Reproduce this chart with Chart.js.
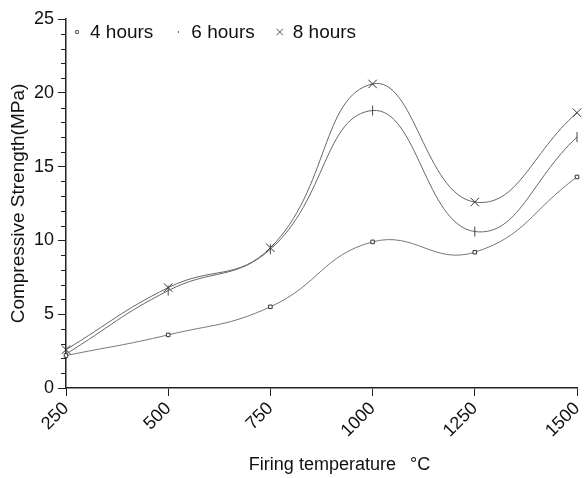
<!DOCTYPE html>
<html>
<head>
<meta charset="utf-8">
<script src="https://cdn.jsdelivr.net/npm/chart.js@4"></script>
<style>
  html, body { margin: 0; padding: 0; background: #fff; }
  #wrap { width: 586px; height: 478px; }
</style>
</head>
<body>
<div id="wrap"><canvas id="strengthChart" width="586" height="478"></canvas></div>
<script>
var temps = [250, 500, 750, 1000, 1250, 1500];
var hours4 = [2.2, 3.6, 5.5, 9.9, 9.2, 14.3];
var hours6 = [2.3, 6.6, 9.4, 18.8, 10.6, 17.0];
var hours8 = [2.6, 6.8, 9.5, 20.6, 12.6, 18.65];
var seriesNames = ['4 hours', '6 hours', '8 hours'];
var yTicks = [0, 5, 10, 15, 20, 25];

function points(vals) {
    return temps.map((t, i) => ({ x: t, y: vals[i] }));
}

var fontFamily = '"Liberation Sans", Arial, sans-serif';
Chart.defaults.font.family = fontFamily;
Chart.defaults.color = '#111';

// small minor ticks on the y axis, one per unit
var minorTicks = {
    id: 'minorTicks',
    afterDraw(chart) {
        var y = chart.scales.y;
        var ctx = chart.ctx;
        ctx.save();
        ctx.strokeStyle = '#222';
        ctx.lineWidth = 1;
        for (var v = 0; v <= 25; v++) {
            if (yTicks.indexOf(v) >= 0) continue;
            var py = Math.round(y.getPixelForValue(v)) + 0.5;
            ctx.beginPath();
            ctx.moveTo(y.right - 5, py);
            ctx.lineTo(y.right, py);
            ctx.stroke();
        }
        ctx.restore();
    }
};

// one-row legend inside the plot, top left
var innerLegend = {
    id: 'innerLegend',
    afterDraw(chart) {
        var ctx = chart.ctx;
        var area = chart.chartArea;
        var x = area.left + 11;
        var y = area.top + 13;
        var sizes = [2, 1, 4.5];
        ctx.save();
        ctx.font = '19px ' + fontFamily;
        ctx.textBaseline = 'middle';
        chart.data.datasets.forEach((ds, i) => {
            ctx.strokeStyle = '#555';
            ctx.fillStyle = '#fff';
            ctx.lineWidth = 1;
            Chart.helpers.drawPoint(ctx, {
                pointStyle: ds.pointStyle,
                radius: sizes[i],
                rotation: ds.pointRotation || 0,
                borderWidth: 1
            }, x, y);
            ctx.fillStyle = '#111';
            ctx.fillText(ds.label, x + 13, y + 1);
            x += 13 + ctx.measureText(ds.label).width + 25;
        });
        ctx.restore();
    }
};

var lineChart = new Chart('strengthChart', {
    type: 'line',
    data: {
        datasets: [{
            label: seriesNames[0],
            data: points(hours4),
            borderColor: '#777',
            borderWidth: 1,
            pointStyle: 'rect',
            pointRadius: 2.5,
            pointBackgroundColor: '#fff',
            pointBorderColor: '#333',
            pointBorderWidth: 1,
            tension: 0.45,
            clip: false,
            fill: false
        }, {
            label: seriesNames[1],
            data: points(hours6),
            borderColor: '#666',
            borderWidth: 1,
            pointStyle: 'line',
            pointRotation: 90,
            pointRadius: 5,
            pointBorderColor: '#444',
            pointBorderWidth: 1,
            tension: 0.45,
            clip: false,
            fill: false
        }, {
            label: seriesNames[2],
            data: points(hours8),
            borderColor: '#666',
            borderWidth: 1,
            pointStyle: 'crossRot',
            pointRadius: 6,
            pointBorderColor: '#333',
            pointBorderWidth: 1,
            tension: 0.45,
            clip: false,
            fill: false
        }]
    },
    options: {
        responsive: false,
        animation: false,
        layout: {
            padding: { top: 19, right: 9, left: 0, bottom: 0 }
        },
        scales: {
            x: {
                type: 'linear',
                min: 250,
                max: 1500,
                afterFit: s => { s.height = 90; s.paddingRight = 0; s.paddingLeft = 0; },
                ticks: {
                    stepSize: 250,
                    minRotation: 45,
                    maxRotation: 45,
                    color: '#111',
                    font: { size: 18 },
                    padding: 2,
                    callback: v => String(v)
                },
                grid: {
                    drawOnChartArea: false,
                    tickLength: 8,
                    color: '#222'
                },
                border: { color: '#222', width: 1.5 },
                title: {
                    display: true,
                    text: '\u2003\u2003Firing temperature\u2002 °C',
                    font: { size: 18 },
                    padding: { top: 0, bottom: 2 }
                }
            },
            y: {
                min: 0,
                max: 25,
                afterFit: s => { s.width = 66; },
                ticks: {
                    stepSize: 5,
                    color: '#111',
                    font: { size: 18 },
                    padding: 4
                },
                grid: {
                    drawOnChartArea: false,
                    tickLength: 8,
                    color: '#222'
                },
                border: { color: '#222', width: 1.5 },
                title: {
                    display: true,
                    text: 'Compressive Strength(MPa)',
                    font: { size: 19 },
                    padding: { top: 7, bottom: 0 }
                }
            }
        },
        plugins: {
            legend: { display: false },
            tooltip: { enabled: false }
        }
    },
    plugins: [minorTicks, innerLegend]
});
</script>
</body>
</html>
